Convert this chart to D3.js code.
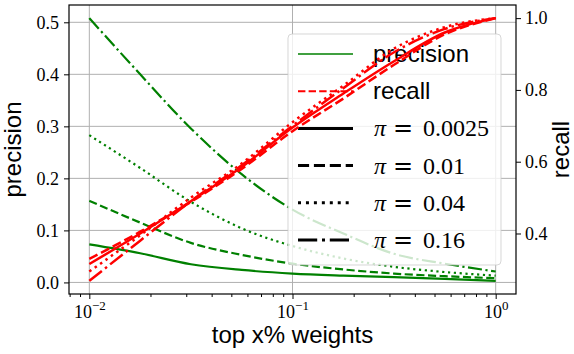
<!DOCTYPE html>
<html lang="en">
<head>
<meta charset="utf-8"/>
<title>precision / recall vs top x% weights</title>
<script src="https://d3js.org/d3.v7.min.js"></script>
<style>
  body { margin: 0; background: #fff; }
  .axis .domain { display: none; }
  .axis text { font-family: "Liberation Serif", serif; font-size: 18px; fill: #000; }
  .lbl { font-family: "Liberation Sans", sans-serif; font-size: 24px; fill: #000; }
</style>
</head>
<body>
<div id="chart"></div>
<script>
// fraction of weights kept (x axis, log)
var topX = [0.01, 0.0178, 0.0316, 0.0562, 0.1, 0.178, 0.316, 0.562, 1.0];

// precision, one array per pi
var prec0025 = [0.073, 0.056, 0.035, 0.024, 0.017, 0.013, 0.010, 0.007, 0.003];
var prec001  = [0.157, 0.115, 0.076, 0.053, 0.036, 0.025, 0.017, 0.012, 0.008];
var prec004  = [0.283, 0.220, 0.155, 0.104, 0.070, 0.046, 0.030, 0.020, 0.013];
var prec016  = [0.508, 0.400, 0.296, 0.208, 0.140, 0.094, 0.055, 0.036, 0.021];

// recall, one array per pi
var rec0025 = [0.315, 0.400, 0.490, 0.585, 0.695, 0.790, 0.880, 0.960, 1.0];
var rec001  = [0.329, 0.405, 0.488, 0.580, 0.685, 0.776, 0.870, 0.955, 1.0];
var rec004  = [0.294, 0.395, 0.500, 0.595, 0.710, 0.812, 0.915, 0.975, 1.0];
var rec016  = [0.268, 0.380, 0.490, 0.590, 0.700, 0.805, 0.905, 0.970, 1.0];

var piValues = ["0.0025", "0.01", "0.04", "0.16"];
var leftTicks = [0, 0.1, 0.2, 0.3, 0.4, 0.5];
var rightTicks = [0.4, 0.6, 0.8, 1.0];
var xTicks = [0.01, 0.1, 1];
var xTickExp = ["\u22122", "\u22121", "0"];

var width = 574, height = 354;
var m = {top: 5, right: 58, bottom: 60, left: 69};
var w = width - m.left - m.right,
    h = height - m.top - m.bottom;

// matplotlib-like dash patterns, scaled by line width
function dash(style, lw) {
  if (style == "dashed") return [3.7 * lw, 1.6 * lw].join(",");
  if (style == "dotted") return [1 * lw, 1.65 * lw].join(",");
  if (style == "dashdot") return [6.4 * lw, 1.6 * lw, 1 * lw, 1.6 * lw].join(",");
  return null;
}
var styles = ["solid", "dashed", "dotted", "dashdot"];

var precSeries = [prec0025, prec001, prec004, prec016];
var recSeries = [rec0025, rec001, rec004, rec016];

// pad the data range 5% like matplotlib
function padded(arrs) {
  var lo = d3.min(arrs, function(a) { return d3.min(a); }),
      hi = d3.max(arrs, function(a) { return d3.max(a); }),
      p = (hi - lo) * 0.05;
  return [lo - p, hi + p];
}
var lx = Math.log10(topX[0]), hx = Math.log10(topX[topX.length - 1]), px = (hx - lx) * 0.05;

var x = d3.scaleLog().domain([Math.pow(10, lx - px), Math.pow(10, hx + px)]).range([0, w]);
var yL = d3.scaleLinear().domain(padded(precSeries)).range([h, 0]);
var yR = d3.scaleLinear().domain(padded(recSeries)).range([h, 0]);

var svg = d3.select("#chart").append("svg")
  .attr("width", width)
  .attr("height", height);

svg.append("defs").append("clipPath").attr("id", "clip")
  .append("rect").attr("width", w).attr("height", h);

var g = svg.append("g").attr("transform", "translate(" + m.left + "," + m.top + ")");

// grid
g.append("g").selectAll("line")
  .data(xTicks).enter().append("line")
  .attr("x1", function(d) { return x(d); }).attr("x2", function(d) { return x(d); })
  .attr("y1", 0).attr("y2", h)
  .attr("stroke", "#b0b0b0").attr("stroke-width", 1);
g.append("g").selectAll("line")
  .data(leftTicks).enter().append("line")
  .attr("x1", 0).attr("x2", w)
  .attr("y1", function(d) { return yL(d); }).attr("y2", function(d) { return yL(d); })
  .attr("stroke", "#b0b0b0").attr("stroke-width", 1);

var plot = g.append("g").attr("clip-path", "url(#clip)");

// precision lines (green), under the legend
var lineL = d3.line()
  .x(function(d, i) { return x(topX[i]); })
  .y(function(d) { return yL(d); })
  .curve(d3.curveMonotoneX);

plot.selectAll(".prec")
  .data(precSeries).enter().append("path")
  .attr("class", "prec")
  .attr("d", lineL)
  .attr("fill", "none")
  .attr("stroke", "green")
  .attr("stroke-width", 2.2)
  .attr("stroke-dasharray", function(d, i) { return dash(styles[i], 2.2); });

// legend
var legX = 288 - m.left, legY = 34 - m.top;
var leg = g.append("g");
leg.append("rect")
  .attr("x", legX).attr("y", legY)
  .attr("width", 213).attr("height", 231)
  .attr("rx", 4)
  .attr("fill", "#fff").attr("fill-opacity", 0.8)
  .attr("stroke", "#ccc").attr("stroke-opacity", 0.8);

var legRows = [
  {label: "precision", color: "green", style: "solid", lw: 1.7},
  {label: "recall", color: "red", style: "dashed", lw: 2}
];
piValues.forEach(function(p, i) {
  legRows.push({pi: p, color: "#000", style: styles[i], lw: 3});
});

var row = leg.selectAll(".row")
  .data(legRows).enter().append("g")
  .attr("transform", function(d, i) { return "translate(" + (legX + 10) + "," + (legY + 20 + i * 37.2) + ")"; });

row.append("line")
  .attr("x1", 0).attr("x2", 55)
  .attr("stroke", function(d) { return d.color; })
  .attr("stroke-width", function(d) { return d.lw; })
  .attr("stroke-dasharray", function(d) { return dash(d.style, d.lw); });

row.each(function(d) {
  var t = d3.select(this).append("text").attr("y", 8);
  if (d.label) {
    t.attr("class", "lbl").attr("x", 75).text(d.label);
  } else {
    t.attr("font-family", "Liberation Serif, serif").attr("font-size", 24);
    t.append("tspan").attr("x", 76).attr("font-style", "italic").text("\u03c0");
    t.append("tspan").attr("x", 95).attr("font-family", "DejaVu Serif, serif").text("=");
    t.append("tspan").attr("x", 125).text(d.pi);
  }
});

// recall lines (red), drawn over the legend
var lineR = d3.line()
  .x(function(d, i) { return x(topX[i]); })
  .y(function(d) { return yR(d); })
  .curve(d3.curveMonotoneX);

g.append("g").attr("clip-path", "url(#clip)")
  .selectAll(".rec")
  .data(recSeries).enter().append("path")
  .attr("class", "rec")
  .attr("d", lineR)
  .attr("fill", "none")
  .attr("stroke", "red")
  .attr("stroke-width", 2.5)
  .attr("stroke-dasharray", function(d, i) { return dash(styles[i], 2.5); });

// axes
g.append("g").attr("class", "axis")
  .call(d3.axisLeft(yL).tickValues(leftTicks).tickSize(5).tickPadding(5).tickFormat(d3.format(".1f")));

g.append("g").attr("class", "axis")
  .attr("transform", "translate(" + w + ",0)")
  .call(d3.axisRight(yR).tickValues(rightTicks).tickSize(5).tickPadding(4).tickFormat(d3.format(".1f")));

var minor = [];
[0.001, 0.01, 0.1].forEach(function(b) {
  for (var k = 2; k <= 9; k++) {
    var v = b * k;
    if (v >= x.domain()[0] && v <= x.domain()[1]) minor.push(v);
  }
});
g.append("g").attr("class", "axis")
  .attr("transform", "translate(0," + h + ")")
  .call(d3.axisBottom(x).tickValues(minor).tickSize(3).tickFormat(""));

var xa = g.append("g").attr("class", "axis")
  .attr("transform", "translate(0," + h + ")")
  .call(d3.axisBottom(x).tickValues(xTicks).tickSize(5).tickFormat(""));
xa.selectAll(".tick").each(function(d, i) {
  var t = d3.select(this).append("text")
    .attr("y", 24).attr("text-anchor", "middle");
  t.append("tspan").text("10");
  t.append("tspan").attr("font-size", 13).attr("dy", -8).text(xTickExp[i]);
});

// frame
g.append("rect")
  .attr("width", w).attr("height", h)
  .attr("fill", "none").attr("stroke", "#000").attr("stroke-width", 1.2);

// axis labels
svg.append("text").attr("class", "lbl")
  .attr("text-anchor", "middle")
  .attr("transform", "translate(21," + (m.top + h / 2) + ") rotate(-90)")
  .text("precision");
svg.append("text").attr("class", "lbl")
  .attr("text-anchor", "middle")
  .attr("transform", "translate(569," + (m.top + h / 2) + ") rotate(-90)")
  .text("recall");
svg.append("text").attr("class", "lbl")
  .attr("text-anchor", "middle")
  .attr("x", m.left + w / 2).attr("y", 343)
  .text("top x% weights");
</script>
</body>
</html>
